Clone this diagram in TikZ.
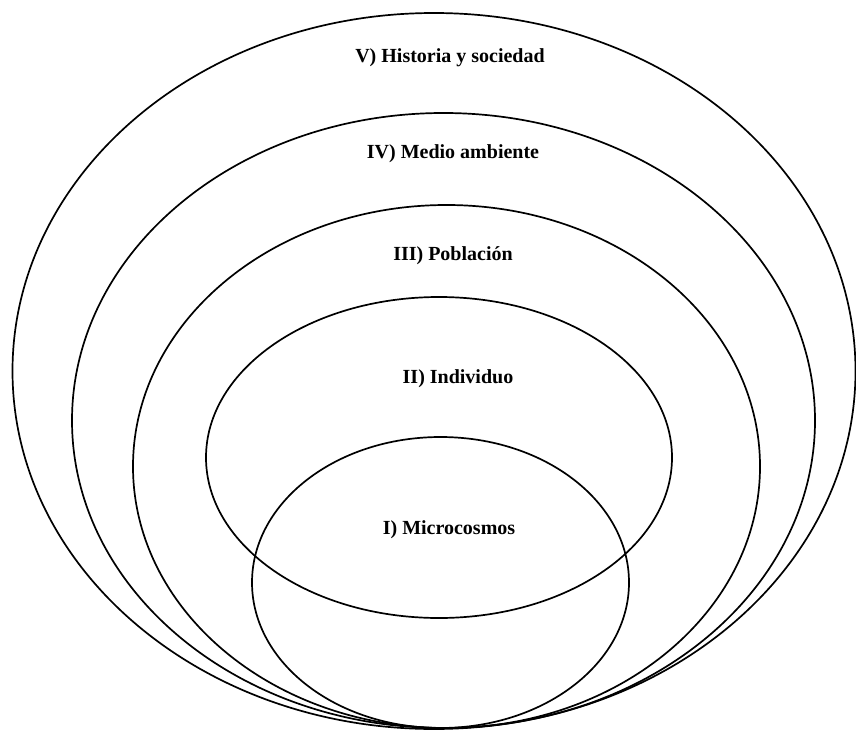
\documentclass[tikz,border=0pt]{standalone}
\usepackage{fontspec}
\setmainfont{Liberation Serif}
\begin{document}
\begin{tikzpicture}[x=1pt,y=-1pt,
  ring/.style={draw=black,line width=1.7pt},
  lab/.style={anchor=base,inner sep=0pt,font=\fontsize{20}{24}\selectfont\bfseries}]
\useasboundingbox[fill=white] (0,0) rectangle (856,733);
% V
\draw[ring] (434,371) ellipse [x radius=421.5pt, y radius=358pt];
% IV
\draw[ring] (443.5,420.5) ellipse [x radius=371.5pt, y radius=307.5pt];
% III
\draw[ring] (446.5,466.5) ellipse [x radius=313.5pt, y radius=261.5pt];
% II
\draw[ring] (439,457.5) ellipse [x radius=233pt, y radius=160.5pt];
% I
\draw[ring] (440.5,582.5) ellipse [x radius=188.5pt, y radius=145.5pt];
\node[lab] (lv) at (450,63) {V) Historia y sociedad};
\node[lab] (liv) at (453,158) {IV) Medio ambiente};
\node[lab] (liii) at (453,260) {III) Población};
\node[lab] (lii) at (458,383) {II) Individuo};
\node[lab] (li) at (449,534) {I) Microcosmos};
\end{tikzpicture}
\end{document}
